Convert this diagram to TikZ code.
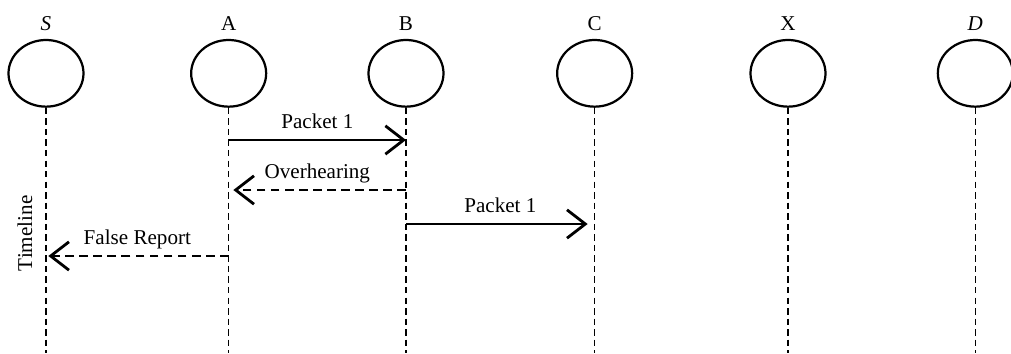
\documentclass[tikz,border=0pt]{standalone}
\usepackage{fontspec}
\setmainfont{Liberation Serif}
\usetikzlibrary{arrows.meta,calc,shapes.geometric}
\tikzset{
  station/.style={ellipse, draw, line width=1.9pt, minimum width=2.25cm, minimum height=2cm, inner sep=0pt},
  tag/.style={font=\fontsize{18}{21}\selectfont, inner sep=0pt, label distance=7pt},
  life/.style={line width=1.4pt, dash pattern=on 5.5pt off 3.5pt},
  msg/.style={-{Straight Barb[length=5.5mm,width=8.5mm]}, line width=2.4pt},
  echo/.style={msg, dash pattern=on 7.5pt off 4.5pt},
  lab/.style={font=\fontsize{18}{21}\selectfont, inner sep=0pt, text depth=0pt, above=9pt},
}

\begin{document}
\begin{tikzpicture}
\useasboundingbox (0,0) rectangle (30.33,-10.59);
\coordinate (bot) at (0,-10.59);
\node[station, label={[tag]above:\textit{S}}] (s) at (1.38,-2.2) {};
\node[station, label={[tag]above:A}] (a) at (6.86,-2.2) {};
\node[station, label={[tag]above:B}] (b) at (12.18,-2.2) {};
\node[station, label={[tag]above:C}] (c) at (17.84,-2.2) {};
\node[station, label={[tag]above:X}] (x) at (23.64,-2.2) {};
\node[station, label={[tag]above:\textit{D}}] (d) at (29.26,-2.2) {};
\foreach \n in {s,a,b,c,x,d}
  \draw[life] (\n.south) -- (\n.south |- bot);
\draw[msg] (a.south |- 0,-4.2) -- node[lab] {Packet 1} (b.south |- 0,-4.2);
\draw[echo, shorten >=4pt] (b.south |- 0,-5.7) -- node[lab] {Overhearing} (a.south |- 0,-5.7);
\draw[msg, shorten >=6pt] (b.south |- 0,-6.72) -- node[lab] {Packet 1} (c.south |- 0,-6.72);
\draw[echo, shorten >=2pt] (a.south |- 0,-7.68) -- node[lab] {False Report} (s.south |- 0,-7.68);
\node[font=\fontsize{18}{21}\selectfont, rotate=90, inner sep=0pt] (time) at (0.75,-7.0) {Timeline};
\end{tikzpicture}
\end{document}
